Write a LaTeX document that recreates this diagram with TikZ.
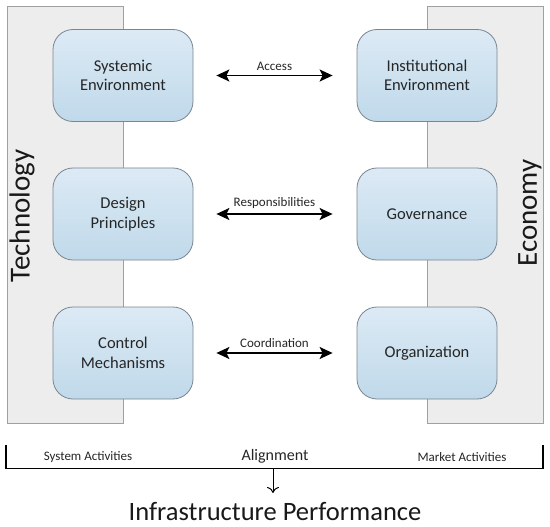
\documentclass[tikz,border=0pt]{standalone}
\usepackage{fontspec}
\setmainfont{Carlito}
\usetikzlibrary{arrows.meta}
\definecolor{boxtop}{HTML}{DCEAF5}
\definecolor{boxbot}{HTML}{C0D9EA}
\definecolor{boxline}{HTML}{7A8690}
\definecolor{panelfill}{HTML}{EDEDED}
\definecolor{panelline}{HTML}{A0A0A0}
\begin{document}
\begin{tikzpicture}[x=1pt,y=-1pt,
  panel/.style={draw=panelline,fill=panelfill,line width=0.8pt},
  blockbox/.style={draw=boxline,line width=0.8pt,rounded corners=20pt,top color=boxtop,bottom color=boxbot,minimum width=140pt,minimum height=92pt,align=center,font=\fontsize{16.5}{19.5}\selectfont,text=black!85},
  linkarrow/.style={{Stealth[length=13pt,width=12pt,inset=3pt]}-{Stealth[length=13pt,width=12pt,inset=3pt]},line width=1.6pt},
  linklabel/.style={font=\fontsize{13}{15}\selectfont,text=black!85},
  sidelabel/.style={font=\fontsize{29}{32}\selectfont,rotate=90,text=black!90}
]
\useasboundingbox (0,0) rectangle (550,527);
\fill[white] (0,0) rectangle (550,527);
% panels
\draw[panel] (7,6) rectangle (123,423);
\draw[panel] (427,6) rectangle (543,423);
\node[sidelabel] (tech) at (22,216) {Technology};
\node[sidelabel] (econ) at (530,213) {Economy};
% boxes
\node[blockbox] (se) at (123,75.5) {Systemic\\Environment};
\node[blockbox] (dp) at (123,214) {Design\\Principles};
\node[blockbox] (cm) at (123,353) {Control\\Mechanisms};
\node[blockbox] (ie) at (427,75.5) {Institutional\\Environment};
\node[blockbox] (gv) at (427,214) {Governance};
\node[blockbox] (or) at (427,353) {Organization};
% connectors
\draw[linkarrow] ([xshift=23pt]se.east) -- node[linklabel,above=1pt] {Access} ([xshift=-24pt]ie.west);
\draw[linkarrow] ([xshift=23pt]dp.east) -- node[linklabel,above=1pt] {Responsibilities} ([xshift=-24pt]gv.west);
\draw[linkarrow] ([xshift=23pt]cm.east) -- node[linklabel,above=1pt] {Coordination} ([xshift=-24pt]or.west);
% bracket
\coordinate (bl) at (6,445);
\coordinate (br) at (543,445);
\draw[line width=1.3pt] (bl) -- (6,468.5) -- (543,468.5) -- (br);
\node[font=\fontsize{13}{15}\selectfont,text=black!85] (sa) at (88,457) {System Activities};
\node[font=\fontsize{16}{18}\selectfont,text=black!85] (al) at (275,456) {Alignment};
\node[font=\fontsize{13}{15}\selectfont,text=black!85] (ma) at (462,457) {Market Activities};
\node[font=\fontsize{26.5}{30}\selectfont,text=black!90] (ip) at (275,512) {Infrastructure Performance};
\coordinate (atop) at (273,468.5);
\draw[-{To[length=6pt,width=12pt]},line width=1pt] (atop) -- (273,493);
\end{tikzpicture}
\end{document}
